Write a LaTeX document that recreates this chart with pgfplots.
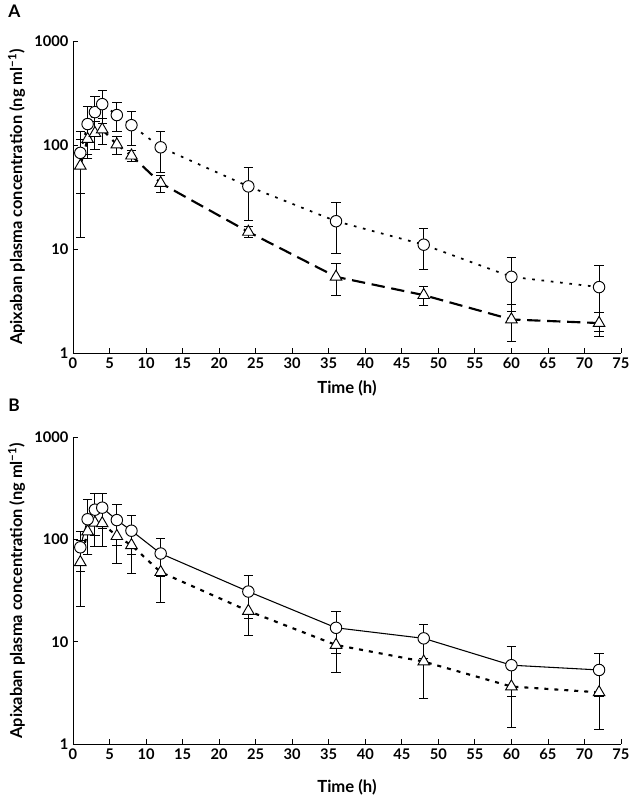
\documentclass[border=0pt]{standalone}
\usepackage{fontspec}
\setmainfont{Lato}
\usepackage{pgfplots}
\usepackage{pgfplotstable}
\pgfplotsset{compat=1.18}

\pgfplotstableread{
t y e
1 84 50
2 159 78
3 207 85
4 247 87
6 194 60
8 155 55
12 95 40
24 40 21
36 18.5 9.5
48 11 4.6
60 5.4 2.9
72 4.3 2.7
}\topcirc
\pgfplotstableread{
t y e
1 63 50
2 114 40
3 130 40
4 141 40
6 101 20
8 79 10
12 43 8
24 14.6 1.7
36 5.4 1.8
48 3.6 0.75
60 2.1 0.8
72 1.94 0.5
}\toptri
\pgfplotstableread{
t y e
1 84 35
2 158 87
3 196 86
4 205 77
6 155 67
8 122 51
12 73 29
24 31 14
36 13.7 6
48 10.8 4
60 5.9 3
72 5.3 2.4
}\botcirc
\pgfplotstableread{
t y e
1 60 38
2 120 49
3 146 60
4 144 59
6 108 49
8 88 41
12 48 24
24 20 8.4
36 9.3 4.3
48 6.4 3.6
60 3.65 2.2
72 3.2 1.8
}\bottri

\pgfplotsset{every axis/.append style={
    scale only axis, width=411pt,
    xmin=0, xmax=75, ymin=1, ymax=1000,
    axis x line*=bottom, axis y line*=left,
    axis line style={-, line width=0.6pt},
    tick align=inside, major tick length=4pt,
    tick style={line width=0.6pt, black},
    xtick={0,5,...,75}, ytick={1,10,100,1000}, yticklabels={1,10,100,1000},
    yminorticks=false,
    /pgf/number format/assume math mode=true,
    tick label style={font=\bfseries\fontsize{11}{12}\selectfont},
    xlabel style={font=\bfseries\fontsize{12.5}{14}\selectfont, yshift=-2pt},
    ylabel style={font=\bfseries\fontsize{12.3}{14}\selectfont},
    xlabel={Time (h)},
    ylabel={Apixaban plasma concentration (ng ml\textsuperscript{−1})},
    clip=false,
}}

\begin{document}
\begin{tikzpicture}
\useasboundingbox (-54.75pt,-40.5pt) rectangle (417pt,558pt);

\begin{semilogyaxis}[height=234pt, at={(0,293.25pt)}, anchor=south west]
\addplot[black, line width=1.6pt, dash pattern=on 10pt off 5pt,
  mark=triangle*, mark size=5pt, mark options={fill=white, draw=black, solid, line width=0.7pt},
  error bars/.cd, y dir=both, y explicit,
  error bar style={line width=0.7pt, black, solid},
  error mark options={rotate=90, mark size=3.5pt, line width=0.7pt, black, solid}]
  table[x=t, y=y, y error=e]{\toptri};
\addplot[black, line width=1.3pt, dash pattern=on 2pt off 5pt,
  mark=*, mark size=4.3pt, mark options={fill=white, draw=black, solid, line width=0.7pt},
  error bars/.cd, y dir=both, y explicit,
  error bar style={line width=0.7pt, black, solid},
  error mark options={rotate=90, mark size=3.5pt, line width=0.7pt, black, solid}]
  table[x=t, y=y, y error=e]{\topcirc};
\end{semilogyaxis}

\begin{semilogyaxis}[height=230pt, at={(0,0)}, anchor=south west,
  xlabel style={yshift=-6pt}]
\addplot[black, line width=1.6pt, dash pattern=on 3pt off 4.5pt,
  mark=triangle*, mark size=5pt, mark options={fill=white, draw=black, solid, line width=0.7pt},
  error bars/.cd, y dir=both, y explicit,
  error bar style={line width=0.7pt, black, solid},
  error mark options={rotate=90, mark size=3.5pt, line width=0.7pt, black, solid}]
  table[x=t, y=y, y error=e]{\bottri};
\addplot[black, line width=0.8pt,
  mark=*, mark size=4.3pt, mark options={fill=white, draw=black, solid, line width=0.7pt},
  error bars/.cd, y dir=both, y explicit,
  error bar style={line width=0.7pt, black, solid},
  error mark options={rotate=90, mark size=3.5pt, line width=0.7pt, black, solid}]
  table[x=t, y=y, y error=e]{\botcirc};
\end{semilogyaxis}

\node[font=\bfseries\fontsize{13}{14}\selectfont, anchor=north west] at (-52pt,557.5pt) {A};
\node[font=\bfseries\fontsize{13}{14}\selectfont, anchor=north west] at (-52pt,262pt) {B};
\end{tikzpicture}
\end{document}
